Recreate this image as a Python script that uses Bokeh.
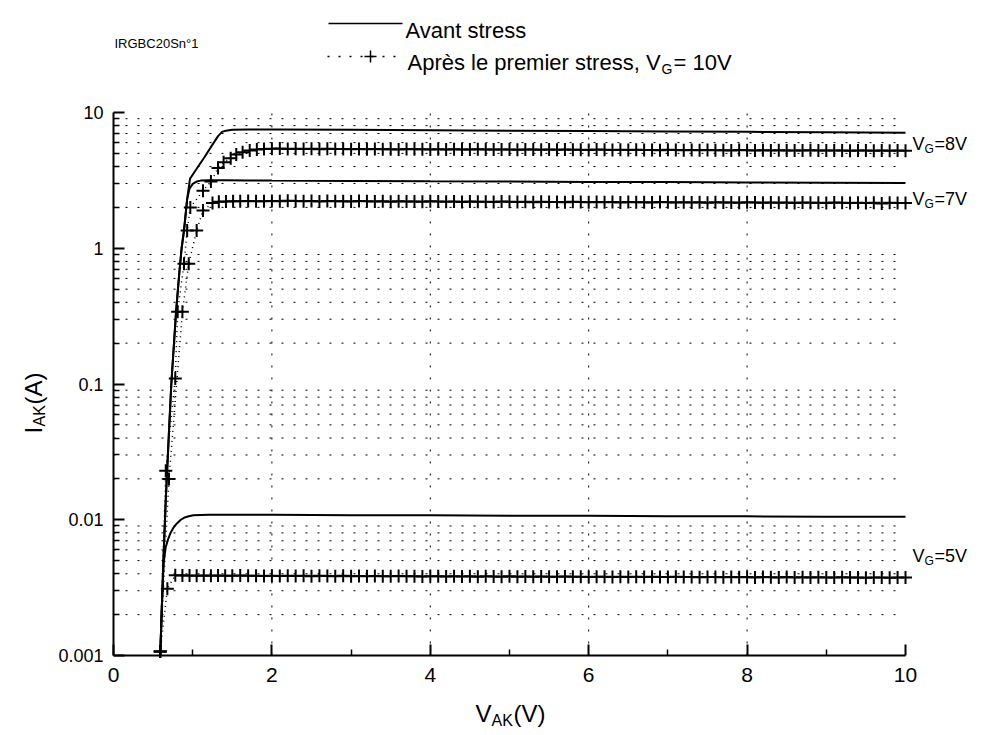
import math
from bokeh.plotting import figure
from bokeh.models import (Range1d, FixedTicker, Label, Arrow, CustomJSTickFormatter,
                          ColumnDataSource)
from bokeh.embed import file_html
from bokeh.resources import INLINE

# ---------------- data ----------------
# Before stress (solid lines)
V_AVANT_8 = [0.59, 0.61, 0.63, 0.66, 0.70, 0.73, 0.76, 0.79, 0.83, 0.86, 0.89, 0.93, 0.966,
             1.05, 1.15, 1.25, 1.32, 1.37, 1.42, 1.5, 1.7, 2.0, 3.0, 4.0, 5.0, 6.0, 7.0, 8.0, 9.0, 10.0]
I_AVANT_8 = [0.001, 0.0022, 0.005, 0.014, 0.044, 0.1, 0.185, 0.34, 0.65, 1.0, 1.35, 2.3, 3.25,
             3.85, 4.7, 5.8, 6.7, 7.2, 7.35, 7.45, 7.5, 7.5, 7.45, 7.4, 7.35, 7.3, 7.25, 7.2, 7.15, 7.1]

V_AVANT_7 = [0.59, 0.61, 0.63, 0.66, 0.70, 0.73, 0.76, 0.79, 0.83, 0.86, 0.89, 0.93, 0.96,
             1.0, 1.05, 1.1, 1.2, 1.4, 1.7, 2.0, 3.0, 4.0, 5.0, 6.0, 7.0, 8.0, 9.0, 10.0]
I_AVANT_7 = [0.001, 0.0022, 0.005, 0.014, 0.044, 0.1, 0.185, 0.34, 0.65, 1.0, 1.35, 2.3, 2.75,
             2.98, 3.1, 3.15, 3.17, 3.17, 3.16, 3.15, 3.13, 3.11, 3.10, 3.08, 3.07, 3.05, 3.04, 3.02]

V_AVANT_5 = [0.59, 0.61, 0.633, 0.66, 0.69, 0.72, 0.76, 0.80, 0.85, 0.90, 0.95, 1.01, 1.2, 1.5,
             2.0, 3.0, 4.0, 5.0, 6.0, 7.0, 8.0, 9.0, 10.0]
I_AVANT_5 = [0.001, 0.0023, 0.0048, 0.0063, 0.0072, 0.0080, 0.0088, 0.0094, 0.0100, 0.0104,
             0.0106, 0.0108, 0.0109, 0.0109, 0.0109, 0.0108, 0.0108, 0.0107, 0.0107, 0.0106,
             0.0106, 0.0105, 0.0105]

# After first stress, VG = 10 V (dotted line with + markers)
V_APRES_8_RISE = [0.59, 0.66, 0.78, 0.81, 0.89, 0.93, 0.97, 1.13, 1.23, 1.32, 1.39, 1.48, 1.55,
                  1.63, 1.72, 1.81, 1.9]
I_APRES_8_RISE = [0.00107, 0.023, 0.11, 0.34, 0.77, 1.35, 2.0, 2.65, 3.1, 3.9, 4.3, 4.6, 4.9,
                  5.1, 5.25, 5.33, 5.38]

V_APRES_7_RISE = [0.59, 0.70, 0.87, 0.95, 1.05, 1.13, 1.25, 1.33, 1.42, 1.51, 1.6, 1.7, 1.8, 1.9]
I_APRES_7_RISE = [0.00107, 0.020, 0.34, 0.77, 1.35, 1.9, 2.15, 2.2, 2.21, 2.22, 2.22, 2.23, 2.22, 2.22]

V_APRES_5_RISE = [0.59, 0.68, 0.78, 0.87, 0.96, 1.05, 1.14, 1.23, 1.32, 1.41, 1.5, 1.6, 1.7, 1.8, 1.9]
I_APRES_5_RISE = [0.00107, 0.0031, 0.0039, 0.00388, 0.00389, 0.00387, 0.00388, 0.00386, 0.00388,
                  0.00387, 0.00386, 0.00388, 0.00386, 0.00387, 0.00385]

V_PLATEAU = [2.0, 2.1, 2.2, 2.3, 2.4, 2.5, 2.6, 2.7, 2.8, 2.9,
             3.0, 3.1, 3.2, 3.3, 3.4, 3.5, 3.6, 3.7, 3.8, 3.9,
             4.0, 4.1, 4.2, 4.3, 4.4, 4.5, 4.6, 4.7, 4.8, 4.9,
             5.0, 5.1, 5.2, 5.3, 5.4, 5.5, 5.6, 5.7, 5.8, 5.9,
             6.0, 6.1, 6.2, 6.3, 6.4, 6.5, 6.6, 6.7, 6.8, 6.9,
             7.0, 7.1, 7.2, 7.3, 7.4, 7.5, 7.6, 7.7, 7.8, 7.9,
             8.0, 8.1, 8.2, 8.3, 8.4, 8.5, 8.6, 8.7, 8.8, 8.9,
             9.0, 9.1, 9.2, 9.3, 9.4, 9.5, 9.6, 9.7, 9.8, 9.9,
             10.0]

I_APRES_8_PLATEAU = [5.40, 5.42, 5.39, 5.41, 5.38, 5.40, 5.37, 5.40, 5.38, 5.39,
                     5.36, 5.38, 5.37, 5.39, 5.36, 5.37, 5.35, 5.38, 5.36, 5.37,
                     5.35, 5.36, 5.34, 5.37, 5.35, 5.33, 5.36, 5.34, 5.35, 5.33,
                     5.34, 5.32, 5.35, 5.33, 5.31, 5.34, 5.32, 5.33, 5.31, 5.32,
                     5.30, 5.33, 5.31, 5.29, 5.32, 5.30, 5.31, 5.29, 5.30, 5.28,
                     5.31, 5.29, 5.27, 5.30, 5.28, 5.29, 5.27, 5.28, 5.26, 5.29,
                     5.27, 5.25, 5.28, 5.26, 5.27, 5.25, 5.26, 5.24, 5.27, 5.25,
                     5.26, 5.24, 5.25, 5.23, 5.26, 5.24, 5.22, 5.25, 5.23, 5.24,
                     5.22]

I_APRES_7_PLATEAU = [2.23, 2.22, 2.24, 2.23, 2.22, 2.23, 2.21, 2.23, 2.22, 2.22,
                     2.21, 2.23, 2.22, 2.21, 2.22, 2.20, 2.22, 2.21, 2.21, 2.20,
                     2.22, 2.21, 2.20, 2.21, 2.19, 2.21, 2.20, 2.20, 2.19, 2.21,
                     2.20, 2.19, 2.20, 2.18, 2.20, 2.19, 2.19, 2.18, 2.20, 2.19,
                     2.18, 2.19, 2.18, 2.19, 2.17, 2.19, 2.18, 2.18, 2.17, 2.19,
                     2.18, 2.17, 2.18, 2.17, 2.18, 2.16, 2.18, 2.17, 2.17, 2.16,
                     2.18, 2.17, 2.16, 2.17, 2.16, 2.17, 2.15, 2.17, 2.16, 2.16,
                     2.15, 2.17, 2.16, 2.15, 2.16, 2.15, 2.16, 2.14, 2.16, 2.15,
                     2.15]

I_APRES_5_PLATEAU = [0.00386, 0.00385, 0.00387, 0.00385, 0.00386, 0.00384, 0.00386, 0.00385, 0.00384, 0.00386,
                     0.00384, 0.00385, 0.00383, 0.00385, 0.00384, 0.00383, 0.00385, 0.00383, 0.00384, 0.00382,
                     0.00384, 0.00383, 0.00382, 0.00384, 0.00382, 0.00383, 0.00381, 0.00383, 0.00382, 0.00381,
                     0.00383, 0.00381, 0.00382, 0.00380, 0.00382, 0.00381, 0.00380, 0.00382, 0.00380, 0.00381,
                     0.00379, 0.00381, 0.00380, 0.00379, 0.00381, 0.00379, 0.00380, 0.00378, 0.00380, 0.00379,
                     0.00378, 0.00380, 0.00378, 0.00379, 0.00377, 0.00379, 0.00378, 0.00377, 0.00379, 0.00377,
                     0.00378, 0.00376, 0.00378, 0.00377, 0.00376, 0.00378, 0.00376, 0.00377, 0.00375, 0.00377,
                     0.00376, 0.00375, 0.00377, 0.00375, 0.00376, 0.00374, 0.00376, 0.00375, 0.00374, 0.00376,
                     0.00375]

X_MIN, X_MAX = 0, 10
Y_MIN, Y_MAX = 0.001, 10
X_TICKS = [0, 2, 4, 6, 8, 10]
X_MINOR = [1, 3, 5, 7, 9]
X_GRID = [2, 4, 6, 8]
Y_TICKS = [0.001, 0.01, 0.1, 1, 10]

# ---------------- layout: page pixels of the data box ----------------
FONT = "Liberation Sans"
W, H = 975, 733
BOX_LEFT, BOX_TOP, BOX_W, BOX_H = 113, 112, 792, 543
DEC = math.log10(Y_MAX) - math.log10(Y_MIN)

def page_to_data(xp, yp):
    x = X_MIN + (xp - BOX_LEFT) / BOX_W * (X_MAX - X_MIN)
    y = 10.0 ** (math.log10(Y_MAX) - (yp - BOX_TOP) / BOX_H * DEC)
    return x, y

x_lo, y_hi = page_to_data(0, 0)
x_hi, y_lo = page_to_data(W, H)

p = figure(x_range=Range1d(x_lo, x_hi), y_range=Range1d(y_lo, y_hi), y_axis_type="log",
           width=W, height=H, min_border=0,
           output_backend="svg", toolbar_location=None)
p.min_border_left = p.min_border_right = p.min_border_top = p.min_border_bottom = 0
p.outline_line_color = None
p.background_fill_color = "white"
p.border_fill_color = "white"
p.xgrid.visible = False
p.ygrid.visible = False

y_minor = [k * 10.0 ** e for e in range(-3, 1) for k in range(2, 10)]

p.xaxis.ticker = FixedTicker(ticks=X_TICKS, minor_ticks=X_MINOR)
p.yaxis.ticker = FixedTicker(ticks=Y_TICKS, minor_ticks=y_minor)
p.yaxis.formatter = CustomJSTickFormatter(code="return String(Number(tick.toPrecision(6)));")
p.xaxis.fixed_location = Y_MIN
p.xaxis.bounds = (X_MIN, X_MAX)
p.yaxis.fixed_location = X_MIN
p.yaxis.bounds = (Y_MIN, Y_MAX)

for ax, size, standoff in ((p.xaxis, "21px", 12), (p.yaxis, "18px", 10)):
    ax.axis_line_width = 2
    ax.axis_line_color = "black"
    ax.major_tick_in = 11
    ax.major_tick_out = 0
    ax.minor_tick_in = 6
    ax.minor_tick_out = 0
    ax.major_tick_line_width = 2
    ax.minor_tick_line_width = 1.5
    ax.major_tick_line_color = "black"
    ax.minor_tick_line_color = "black"
    ax.major_label_text_font = FONT
    ax.major_label_text_font_size = size
    ax.major_label_text_color = "black"
    ax.major_label_standoff = standoff

# dotted grid (vertical at 2,4,6,8 ; horizontal at every minor decade tick)
p.segment(x0=X_GRID, y0=[Y_MIN] * len(X_GRID), x1=X_GRID, y1=[Y_MAX] * len(X_GRID),
          line_color="black", line_width=1, line_dash="2 10")
p.segment(x0=[X_MIN] * len(y_minor), y0=y_minor, x1=[X_MAX] * len(y_minor), y1=y_minor,
          line_color="black", line_width=1, line_dash="2 10")

# before-stress curves
for vx, iy in ((V_AVANT_8, I_AVANT_8), (V_AVANT_7, I_AVANT_7), (V_AVANT_5, I_AVANT_5)):
    p.line(vx, iy, line_color="black", line_width=2)

# after-stress curves
for vr, ir, ip in ((V_APRES_8_RISE, I_APRES_8_RISE, I_APRES_8_PLATEAU),
                   (V_APRES_7_RISE, I_APRES_7_RISE, I_APRES_7_PLATEAU),
                   (V_APRES_5_RISE, I_APRES_5_RISE, I_APRES_5_PLATEAU)):
    src = ColumnDataSource(dict(v=vr + V_PLATEAU, i=ir + ip))
    p.line("v", "i", source=src, line_color="black", line_width=1.5, line_dash="1 4")
    p.scatter("v", "i", source=src, marker="cross", size=13, line_color="black", line_width=2)

# ---------------- annotations (positions in page pixels) ----------------
def txt(s, xp, yp, size, angle=0.0, align="left"):
    x, y = page_to_data(xp, yp)
    p.add_layout(Label(x=x, y=y, text=s, text_font=FONT, text_font_size=f"{size}px",
                       text_color="black", text_baseline="alphabetic", text_align=align,
                       angle=angle))

def seg(xp0, yp0, xp1, yp1, width=1.5, dash="solid"):
    x0, y0 = page_to_data(xp0, yp0)
    x1, y1 = page_to_data(xp1, yp1)
    p.add_layout(Arrow(end=None, x_start=x0, y_start=y0, x_end=x1, y_end=y1,
                       line_color="black", line_width=width, line_dash=dash))

# sample title
txt("IRGBC20Sn°1", 114, 43, 13)

# legend
seg(328, 23, 402, 23, width=1.5)
txt("Avant stress", 405, 30, 22)
seg(327, 56, 397, 56, width=1.5, dash="2 9")
seg(364, 56, 376, 56, width=1.5)
seg(370, 50, 370, 62, width=1.5)
txt("Après le premier stress, V", 407, 62, 22)
txt("G", 661, 68, 14)
txt("= 10V", 673, 62, 22)

# curve labels
for yb, lab in ((143, "=8V"), (198, "=7V"), (555, "=5V")):
    txt("V", 912, yb, 18)
    txt("G", 924, yb + 5, 12)
    txt(lab, 934, yb, 18)

# x axis title
txt("V", 475, 713, 24)
txt("AK", 491, 720, 16)
txt("(V)", 513, 713, 24)

# y axis title (rotated)
rot = math.pi / 2
txt("I", 33, 433, 24, angle=rot)
txt("AK", 39, 426, 16, angle=rot)
txt("(A)", 33, 404, 24, angle=rot)

open("out.html", "w").write(file_html(p, INLINE))
